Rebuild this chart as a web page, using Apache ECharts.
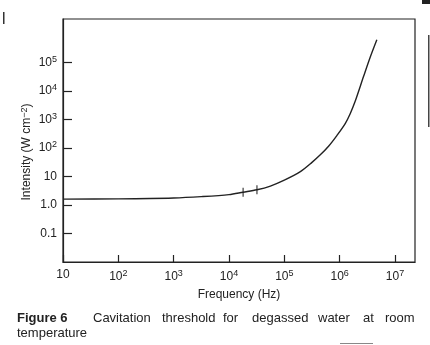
<!DOCTYPE html>
<html><head><meta charset="utf-8">
<script src="https://cdn.jsdelivr.net/npm/echarts@6/dist/echarts.min.js"></script>
<style>html,body{margin:0;padding:0;background:#fff}#c{width:430px;height:345px}</style>
</head><body><div id="c"></div>
<script>
// Data (log-log plot)
const frequencyHz = [10, 100, 1000, 3160, 10000, 18000, 32000, 56000, 100000, 195000, 316000, 447000, 630000, 890000, 1260000, 1550000, 1900000, 2700000, 3550000, 4700000];
const intensity   = [1.6, 1.63, 1.75, 1.95, 2.3, 2.8, 3.4, 4.6, 7.4, 14.7, 31, 57, 114, 270, 710, 1580, 4200, 31600, 148000, 620000];
const markFreq = [18000, 32000];
const markVal  = [2.8, 3.4];
const xTicks = [10, 100, 1000, 10000, 100000, 1000000, 10000000];
const yTicks = [0.1, 1, 10, 100, 1000, 10000, 100000];
const xTickLabels = ['10', '10{s|2}', '10{s|3}', '10{s|4}', '10{s|5}', '10{s|6}', '10{s|7}'];
const yTickLabels = ['0.1', '1.0', '10', '10{s|2}', '10{s|3}', '10{s|4}', '10{s|5}'];
const captionWords = ['Cavitation', 'threshold', 'for', 'degassed', 'water', 'at', 'room'];

const ink = '#222';
const font = 'Liberation Sans, Arial, sans-serif';
const rich = { s: { fontSize: 9, verticalAlign: 'top', padding: [0, 0, 6, 0], fontFamily: font, color: ink } };

function lab(ticks, labels) {
  return function (v) {
    for (let i = 0; i < ticks.length; i++) {
      if (Math.abs(Math.log10(v) - Math.log10(ticks[i])) < 1e-6) return labels[i];
    }
    return '';
  };
}

const wordX = [93, 162, 223, 252, 318, 363, 385];
const captionGraphics = captionWords.map((w, i) => ({
  type: 'text', x: wordX[i], y: 312, silent: true,
  style: { text: w, fontFamily: font, fontSize: 13, fill: ink }
}));

const chart = echarts.init(document.getElementById('c'), null, { renderer: 'canvas' });
chart.setOption({
  animation: false,
  backgroundColor: '#fff',
  grid: { left: 63, top: 19, right: 15, bottom: 83, show: true, borderColor: ink, borderWidth: 1.2 },
  xAxis: {
    type: 'log', logBase: 10, min: 10, max: 2.3e7,
    name: 'Frequency (Hz)', nameLocation: 'middle', nameGap: 27,
    nameTextStyle: { fontFamily: font, fontSize: 12, color: ink },
    axisLine: { show: true, lineStyle: { color: ink, width: 1.2 } },
    axisTick: { show: true, inside: true, length: 7, lineStyle: { color: ink, width: 1.2 }, customValues: xTicks },
    axisLabel: { fontFamily: font, fontSize: 12, color: ink, margin: 7, customValues: xTicks, formatter: lab(xTicks, xTickLabels), rich: rich },
    splitLine: { show: false }
  },
  yAxis: {
    type: 'log', logBase: 10, min: 0.01, max: 3.3e6,
    axisLine: { show: true, lineStyle: { color: ink, width: 1.2 } },
    axisTick: { show: true, inside: true, length: 9, lineStyle: { color: ink, width: 1.2 }, customValues: yTicks },
    axisLabel: { fontFamily: font, fontSize: 12, color: ink, margin: 6, customValues: yTicks, formatter: lab(yTicks, yTickLabels), rich: rich },
    splitLine: { show: false }
  },
  series: [
    {
      type: 'line', smooth: 0.3, symbol: 'none',
      lineStyle: { color: ink, width: 1.4 },
      data: frequencyHz.map((f, i) => [f, intensity[i]])
    },
    {
      type: 'scatter', symbol: 'rect', symbolSize: [1.3, 9],
      itemStyle: { color: ink },
      data: markFreq.map((f, i) => [f, markVal[i]])
    }
  ],
  graphic: [
    {
      type: 'text', x: 27, y: 152, rotation: Math.PI / 2, silent: true,
      style: {
        text: 'Intensity (W cm{s|−2})', fontFamily: font, fontSize: 12, fill: ink,
        align: 'center', verticalAlign: 'middle',
        rich: { s: { fontSize: 9, verticalAlign: 'top', padding: [0, 0, 5, 0], fontFamily: font, fill: ink } }
      }
    },
    { type: 'text', x: 17, y: 312, silent: true, style: { text: 'Figure 6', fontFamily: font, fontSize: 13, fontWeight: 'bold', fill: ink } },
    ...captionGraphics,
    { type: 'text', x: 17, y: 326.5, silent: true, style: { text: 'temperature', fontFamily: font, fontSize: 13, fill: ink } },
    { type: 'rect', silent: true, shape: { x: 3, y: 12, width: 1.5, height: 12 }, style: { fill: '#333' } },
    { type: 'rect', silent: true, shape: { x: 422, y: 0, width: 8, height: 4 }, style: { fill: '#222' } },
    { type: 'rect', silent: true, shape: { x: 428, y: 35, width: 1.5, height: 92 }, style: { fill: '#444' } },
    { type: 'rect', silent: true, shape: { x: 340, y: 343, width: 33, height: 1 }, style: { fill: '#888' } }
  ]
});
</script></body></html>
